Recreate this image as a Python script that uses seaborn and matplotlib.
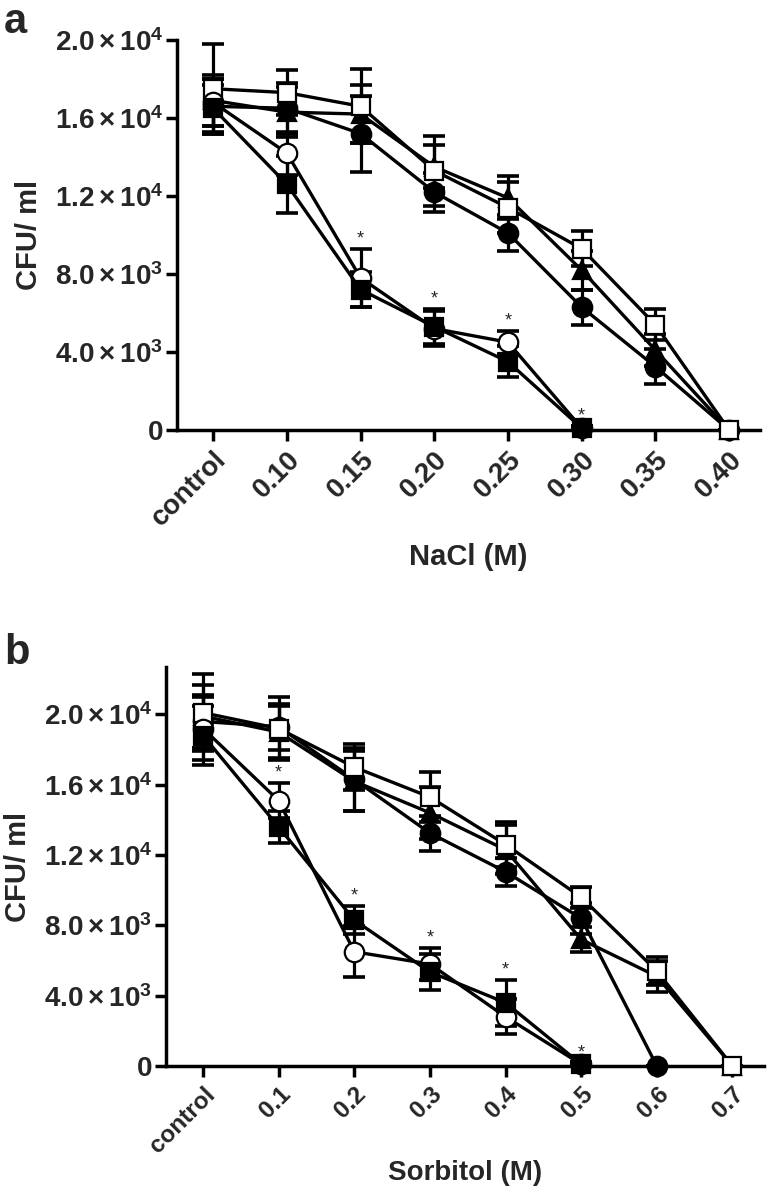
import numpy as np
import pandas as pd
import matplotlib
matplotlib.use("Agg")
import matplotlib.pyplot as plt
import seaborn as sns

nan = np.nan

# ---------------- data ----------------
nacl_labels = ["control", "0.10", "0.15", "0.20", "0.25", "0.30", "0.35", "0.40"]
sorb_labels = ["control", "0.1", "0.2", "0.3", "0.4", "0.5", "0.6", "0.7"]

series_names = ["filled_circle", "filled_triangle", "open_square", "open_circle", "filled_square"]

# Panel a (NaCl) means and SD
a_filled_square   = [16500, 12600, 7200, 5300, 3500, 100, nan, nan]
a_open_circle     = [16800, 14200, 7800, 5200, 4500, 100, nan, nan]
a_filled_circle   = [16600, 16500, 15200, 12200, 10100, 6300, 3250, 0]
a_filled_triangle = [16900, 16300, 16200, 13500, 11900, 8200, 4100, 0]
a_open_square     = [17500, 17300, 16600, 13300, 11400, 9300, 5400, 0]

a_sd_filled_square   = [1200, 1450, 900, 900, 800, 100, nan, nan]
a_sd_open_circle     = [1200, 1100, 1500, 900, 600, 100, nan, nan]
a_sd_filled_circle   = [1400, 1300, 1950, 1000, 900, 900, 900, 0]
a_sd_filled_triangle = [1300, 1300, 1500, 1100, 1100, 1000, 800, 0]
a_sd_open_square     = [2300, 1150, 1900, 1800, 1300, 900, 800, 0]

a_star_idx = [2, 3, 4, 5]

# Panel b (Sorbitol) means and SD
b_filled_square   = [18800, 13600, 8300, 5350, 3600, 100, nan, nan]
b_open_circle     = [19200, 15100, 6500, 5800, 2800, 100, nan, nan]
b_filled_circle   = [19600, 19300, 16300, 13250, 11050, 8400, 0, nan]
b_filled_triangle = [19900, 19000, 16200, 14400, 12300, 7200, 5100, 0]
b_open_square     = [20100, 19200, 17000, 15300, 12600, 9600, 5400, 0]

b_sd_filled_square   = [1700, 900, 800, 1000, 1300, 100, nan, nan]
b_sd_open_circle     = [1800, 1000, 1450, 900, 1000, 100, nan, nan]
b_sd_filled_circle   = [1500, 1300, 1800, 1000, 800, 900, 0, nan]
b_sd_filled_triangle = [1800, 1500, 1700, 1500, 1400, 700, 900, 0]
b_sd_open_square     = [2200, 1800, 1300, 1400, 1300, 600, 800, 0]

b_star_idx = [1, 2, 3, 4, 5]

y_ticks_a = [0, 4000, 8000, 12000, 16000, 20000]
y_ticks_b = [0, 4000, 8000, 12000, 16000, 20000]
y_tick_labels = ["0", r"$4.0\times10^{3}$", r"$8.0\times10^{3}$",
                 r"$1.2\times10^{4}$", r"$1.6\times10^{4}$", r"$2.0\times10^{4}$"]

ylabel_text = "CFU/ ml"
xlabel_a = "NaCl (M)"
xlabel_b = "Sorbitol (M)"

# ---------------- style ----------------
sns.set_theme(style="ticks")
plt.rcParams["font.family"] = ["Liberation Sans", "DejaVu Sans"]
plt.rcParams["font.weight"] = "bold"
plt.rcParams["mathtext.fontset"] = "custom"
plt.rcParams["mathtext.rm"] = "Liberation Sans:bold"
plt.rcParams["mathtext.bf"] = "Liberation Sans:bold"
plt.rcParams["mathtext.it"] = "Liberation Sans:bold"
plt.rcParams["mathtext.default"] = "rm"

marker_style = {
    "filled_square":   dict(marker="s", mfc="black", ms=13),
    "open_circle":     dict(marker="o", mfc="white", ms=14),
    "filled_circle":   dict(marker="o", mfc="black", ms=14),
    "filled_triangle": dict(marker="^", mfc="black", ms=13),
    "open_square":     dict(marker="s", mfc="white", ms=13),
}

def build_frames(means, sds):
    rows = []
    for name in series_names:
        for i, (m, s) in enumerate(zip(means[name], sds[name])):
            rows.append(dict(series=name, x=i, y=m, sd=s))
    return pd.DataFrame(rows)

def draw_panel(ax, df, labels, yticks, ylim_top, star_idx, xlabel,
               xt_size, xl_size, xl_pad):
    for name in series_names:
        d = df[(df.series == name) & df.y.notna()]
        ax.errorbar(d.x, d.y, yerr=d.sd, fmt="none", ecolor="black",
                    elinewidth=2.3, capsize=8, capthick=2.6, zorder=2, clip_on=False)
    for name in series_names:
        d = df[(df.series == name) & df.y.notna()]
        st = marker_style[name]
        sns.lineplot(data=d, x="x", y="y", ax=ax, color="black", lw=2.4,
                     marker=st["marker"], markersize=st["ms"],
                     markerfacecolor=st["mfc"], markeredgecolor="black",
                     markeredgewidth=1.6, zorder=3, clip_on=False,
                     estimator=None, sort=False, legend=False)
    low = df[df.series.isin(["filled_square", "open_circle"])]
    for i in star_idx:
        top = (low[low.x == i].y + low[low.x == i].sd).max()
        ax.annotate("*", (i, top), xytext=(0, 1), textcoords="offset points",
                    ha="center", va="bottom", fontsize=13, fontweight="normal",
                    annotation_clip=False)
    ax.set_xlim(-0.49, 7.42)
    ax.set_ylim(0, ylim_top)
    ax.set_xticks(range(len(labels)))
    ax.set_xticklabels(labels, rotation=45, ha="right", rotation_mode="anchor",
                       fontsize=xt_size, fontweight="bold")
    ax.set_yticks(yticks)
    ax.set_yticklabels(y_tick_labels, fontsize=20)
    ax.set_xlabel(xlabel, fontsize=xl_size, fontweight="bold", labelpad=xl_pad)
    ax.set_ylabel(ylabel_text, fontsize=21, fontweight="bold", labelpad=8)
    for sp in ["top", "right"]:
        ax.spines[sp].set_visible(False)
    for sp in ["left", "bottom"]:
        ax.spines[sp].set_linewidth(2.5)
        ax.spines[sp].set_color("black")
    ax.tick_params(axis="both", direction="out", length=8, width=2.5, color="black")
    ax.tick_params(axis="x", pad=4)
    ax.tick_params(axis="y", pad=2)

fig = plt.figure(figsize=(7.67, 11.9), dpi=100)
ax_a = fig.add_axes([0.2308, 0.6387, 0.760, 0.3277])
ax_b = fig.add_axes([0.2164, 0.1042, 0.780, 0.3353])

df_a = build_frames(
    {"filled_square": a_filled_square, "open_circle": a_open_circle,
     "filled_circle": a_filled_circle, "filled_triangle": a_filled_triangle,
     "open_square": a_open_square},
    {"filled_square": a_sd_filled_square, "open_circle": a_sd_open_circle,
     "filled_circle": a_sd_filled_circle, "filled_triangle": a_sd_filled_triangle,
     "open_square": a_sd_open_square})
df_b = build_frames(
    {"filled_square": b_filled_square, "open_circle": b_open_circle,
     "filled_circle": b_filled_circle, "filled_triangle": b_filled_triangle,
     "open_square": b_open_square},
    {"filled_square": b_sd_filled_square, "open_circle": b_sd_open_circle,
     "filled_circle": b_sd_filled_circle, "filled_triangle": b_sd_filled_triangle,
     "open_square": b_sd_open_square})

draw_panel(ax_a, df_a, nacl_labels, y_ticks_a, 20000, a_star_idx, xlabel_a, 20, 21, 8)
draw_panel(ax_b, df_b, sorb_labels, y_ticks_b, 22700, b_star_idx, xlabel_b, 17.5, 20, 2)

fig.text(0.005, 0.998, "a", fontsize=30, fontweight="bold", va="top", ha="left")
fig.text(0.005, 0.468, "b", fontsize=30, fontweight="bold", va="top", ha="left")

fig.savefig("out.png", dpi=100)
